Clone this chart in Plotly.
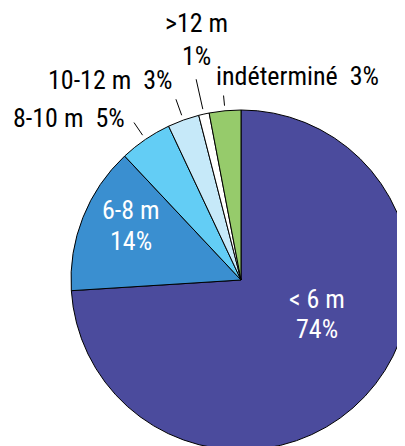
import math
import plotly.graph_objects as go

# data
labels = ["< 6 m", "6-8 m", "8-10 m", "10-12 m", ">12 m", "indéterminé"]
values = [74, 14, 5, 3, 1, 3]
colors = ["#4B4B9D", "#3A8FD0", "#63CDF5", "#C6E9F9", "#FFFFFF", "#96CB6B"]

# page has an 8px body margin, so the figure is drawn a bit larger and shifted
OFF = 8
W, H = 420, 460
FONT = "Liberation Sans Narrow, Arial Narrow, Roboto Condensed, sans-serif"

# pie placement in screen pixels (from top-left of the window); it runs off the right/bottom edge
cx_s, cy_s, r = 241, 280, 170
cx, cy = cx_s - OFF, cy_s - OFF


def px(x):
    return (x - OFF) / W


def py(y):
    return 1 - (y - OFF) / H


fig = go.Figure(go.Pie(
    labels=labels, values=values, sort=False, direction="clockwise", rotation=0,
    marker=dict(colors=colors, line=dict(color="black", width=1)),
    textinfo="none", hoverinfo="label+percent",
    domain=dict(x=[(cx - r) / W, (cx + r) / W], y=[1 - (cy + r) / H, 1 - (cy - r) / H]),
))

# label positions (screen px): (x, y of first line, y of second line or None, colour)
label_pos = [(317, 299, 329, "white"), (131, 210, 241, "white"), (69, 118, None, "black"),
             (110, 80, None, "black"), (196, 23, 56, "black"), (297, 76, None, "black")]
# leader-line outer radius (fraction of r), None = label sits inside the slice
lead_out = [None, None, 1.12, 1.13, 1.21, 1.09]


def put(text, x, y, col):
    fig.add_annotation(x=px(x), y=py(y), xref="paper", yref="paper", text=text,
                       showarrow=False, font=dict(family=FONT, size=26, color=col),
                       xanchor="center", yanchor="middle")


total = sum(values)
cum = 0
for lab, v, (lx, ly, ly2, col), lo in zip(labels, values, label_pos, lead_out):
    pct = round(100 * v / total)
    if ly2 is not None:
        put(lab, lx, ly, col)
        put(f"{pct}%", lx, ly2, col)
    else:
        put(f"{lab}  {pct}%", lx, ly, col)
    mid = 2 * math.pi * (cum + v / 2) / total
    if lo is not None:
        a = (cx_s + 1.03 * r * math.sin(mid), cy_s - 1.03 * r * math.cos(mid))
        b = (cx_s + lo * r * math.sin(mid), cy_s - lo * r * math.cos(mid))
        fig.add_shape(type="line", xref="paper", yref="paper",
                      x0=px(a[0]), y0=py(a[1]), x1=px(b[0]), y1=py(b[1]),
                      line=dict(color="black", width=1))
    cum += v

fig.update_layout(width=W, height=H, margin=dict(l=0, r=0, t=0, b=0),
                  paper_bgcolor="white", showlegend=False)
fig.write_html("out.html")
